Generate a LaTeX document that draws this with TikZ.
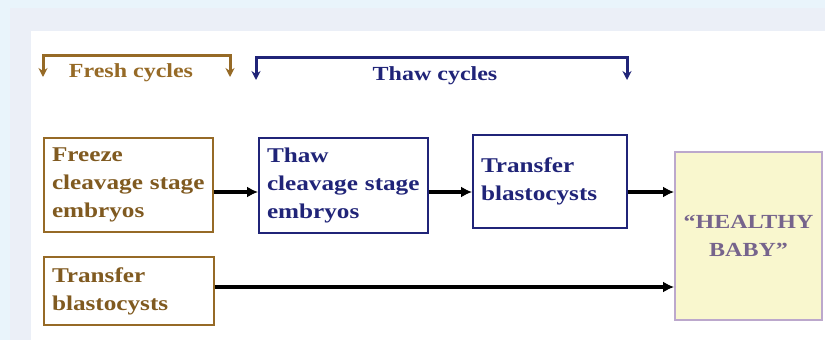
\documentclass[tikz,border=0pt]{standalone}
\usepackage{fontspec}
\setmainfont{Liberation Serif}[FakeStretch=1.2]
\usepackage{tikz}
\usetikzlibrary{arrows.meta}

\definecolor{FreshBrown}{RGB}{150,106,38}
\definecolor{ThawBlue}{RGB}{32,36,120}
\definecolor{BabyText}{RGB}{118,100,140}
\definecolor{BabyLine}{RGB}{188,168,204}
\definecolor{BabyFill}{RGB}{249,247,206}
\definecolor{PageBlue}{RGB}{233,244,251}
\definecolor{PanelBlue}{RGB}{235,239,247}

\tikzset{
  stepbox/.style={draw, line width=1.8pt, rectangle, align=left,
    inner sep=8pt, font=\bfseries\fontsize{21}{28}\selectfont},
  fresh/.style={stepbox, FreshBrown, text=FreshBrown!85!black},
  thaw/.style={stepbox, ThawBlue},
  cyclelbl/.style={font=\bfseries\fontsize{20}{24}\selectfont},
  bracket/.style={line width=3pt,
    {Stealth[length=9pt,width=9pt]}-{Stealth[length=9pt,width=9pt]}},
  arr/.style={-{Latex[length=11pt,width=11pt]}, line width=3.4pt, black}
}

\begin{document}
\begin{tikzpicture}[x=1pt, y=-1pt]
      % background
      \fill[PageBlue] (0, 0) rectangle (825, 340);
      \fill[PanelBlue] (10, 8) rectangle (825, 340);
      \fill[white] (31, 31) rectangle (825, 340);
      \useasboundingbox (0, 0) rectangle (825, 340);

      % cycle brackets
      \draw[bracket, FreshBrown] (43, 77) |- (230, 55) -- (230, 77);
      \node[cyclelbl, FreshBrown] (freshlbl) at (131, 73) {Fresh cycles};
      \draw[bracket, ThawBlue] (256, 80) |- (627, 57) -- (627, 80);
      \node[cyclelbl, ThawBlue] (thawlbl) at (435, 76) {Thaw cycles};

      % steps
      \node[fresh, minimum height=94pt, text width=153pt] (freeze) at (128.5, 185)
            {Freeze\\cleavage stage\\embryos};
      \node[thaw, minimum height=95pt, text width=153pt] (thaw) at (343.5, 185.5)
            {Thaw\\cleavage stage\\embryos};
      \node[thaw, minimum height=93pt, text width=138pt] (thawxfer) at (550, 181.5)
            {Transfer\\blastocysts};
      \node[fresh, minimum height=68pt, text width=154pt] (freshxfer) at (129, 291)
            {Transfer\\blastocysts};
      \node[draw=BabyLine, fill=BabyFill, line width=1.8pt, text=BabyText,
            minimum width=147pt, minimum height=168pt, align=center,
            font=\bfseries\fontsize{20}{28}\selectfont] (baby) at (748.5, 236)
            {``HEALTHY\\BABY''};

      % flow
      \coordinate (flow) at (0, 192);
      \coordinate (direct) at (0, 287);
      \draw[arr] (freeze.east |- flow) -- (thaw.west |- flow);
      \draw[arr] (thaw.east |- flow) -- (thawxfer.west |- flow);
      \draw[arr] (thawxfer.east |- flow) -- (baby.west |- flow);
      \draw[arr] (freshxfer.east |- direct) -- (baby.west |- direct);
    \end{tikzpicture}
\end{document}
